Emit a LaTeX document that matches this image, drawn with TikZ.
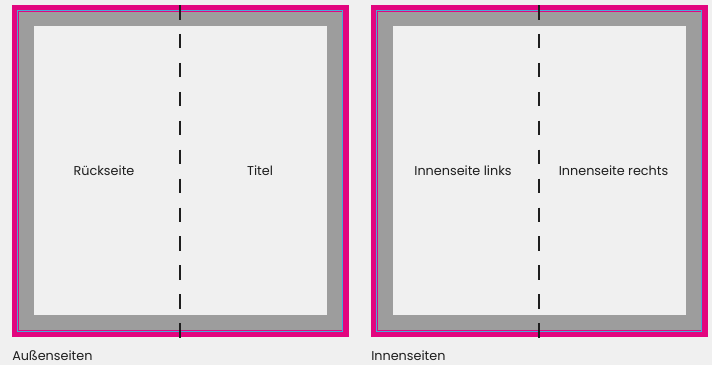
\documentclass[tikz,border=0pt]{standalone}
\usepackage{fontspec}
\setmainfont{Poppins}
\usetikzlibrary{positioning}

\definecolor{pagebg}{HTML}{F0F0F0}
\definecolor{bleedmag}{HTML}{E2067F}
\definecolor{trimcyan}{HTML}{4AA8D8}
\definecolor{safegrey}{HTML}{9D9D9D}
\definecolor{foldink}{HTML}{1E1E1E}

\begin{document}
\begin{tikzpicture}[
    x=0.75pt, y=-0.75pt,
    every node/.style={font=\fontsize{9.6pt}{11pt}\selectfont, text=foldink},
    bleed/.style={fill=bleedmag},
    trimline/.style={draw=trimcyan, line width=0.75pt},
    safeband/.style={fill=safegrey},
    pagearea/.style={fill=pagebg},
    fold/.style={draw=foldink, line width=1.5pt, dash pattern=on 10.9pt off 10.8pt},
    side/.style={inner sep=0pt},
    caption/.style={inner sep=0pt, anchor=west}
]
\fill[pagebg] (0,0) rectangle (712,365);
\useasboundingbox (0,0) rectangle (712,365);

% Aussenseiten
\fill[bleed] (12,5) rectangle (348.5,337);
\fill[safeband] (19,12) rectangle (341.5,330);
\draw[trimline] (17.8,10.8) rectangle (342.7,331.2);
\fill[pagearea] (34,26) rectangle (327,315);
\coordinate (outtop) at (180,5);
\coordinate (outbot) at (180,337.5);
\draw[fold] (outtop) -- (outbot);
\node[side] (back) at (104,171) {Rückseite};
\node[side] (title) at (260,171) {Titel};
\node[caption] (outer) at (12,356) {Außenseiten};

% Innenseiten
\fill[bleed] (371,5) rectangle (707.5,337);
\fill[safeband] (378,12) rectangle (700.5,330);
\draw[trimline] (376.8,10.8) rectangle (701.7,331.2);
\fill[pagearea] (393,26) rectangle (686,315);
\coordinate (intop) at (539,5);
\coordinate (inbot) at (539,337.5);
\draw[fold] (intop) -- (inbot);
\node[side] (innerleft) at (463,171) {Innenseite links};
\node[side] (innerright) at (613.5,171) {Innenseite rechts};
\node[caption] (inner) at (371,356) {Innenseiten};
\end{tikzpicture}
\end{document}
